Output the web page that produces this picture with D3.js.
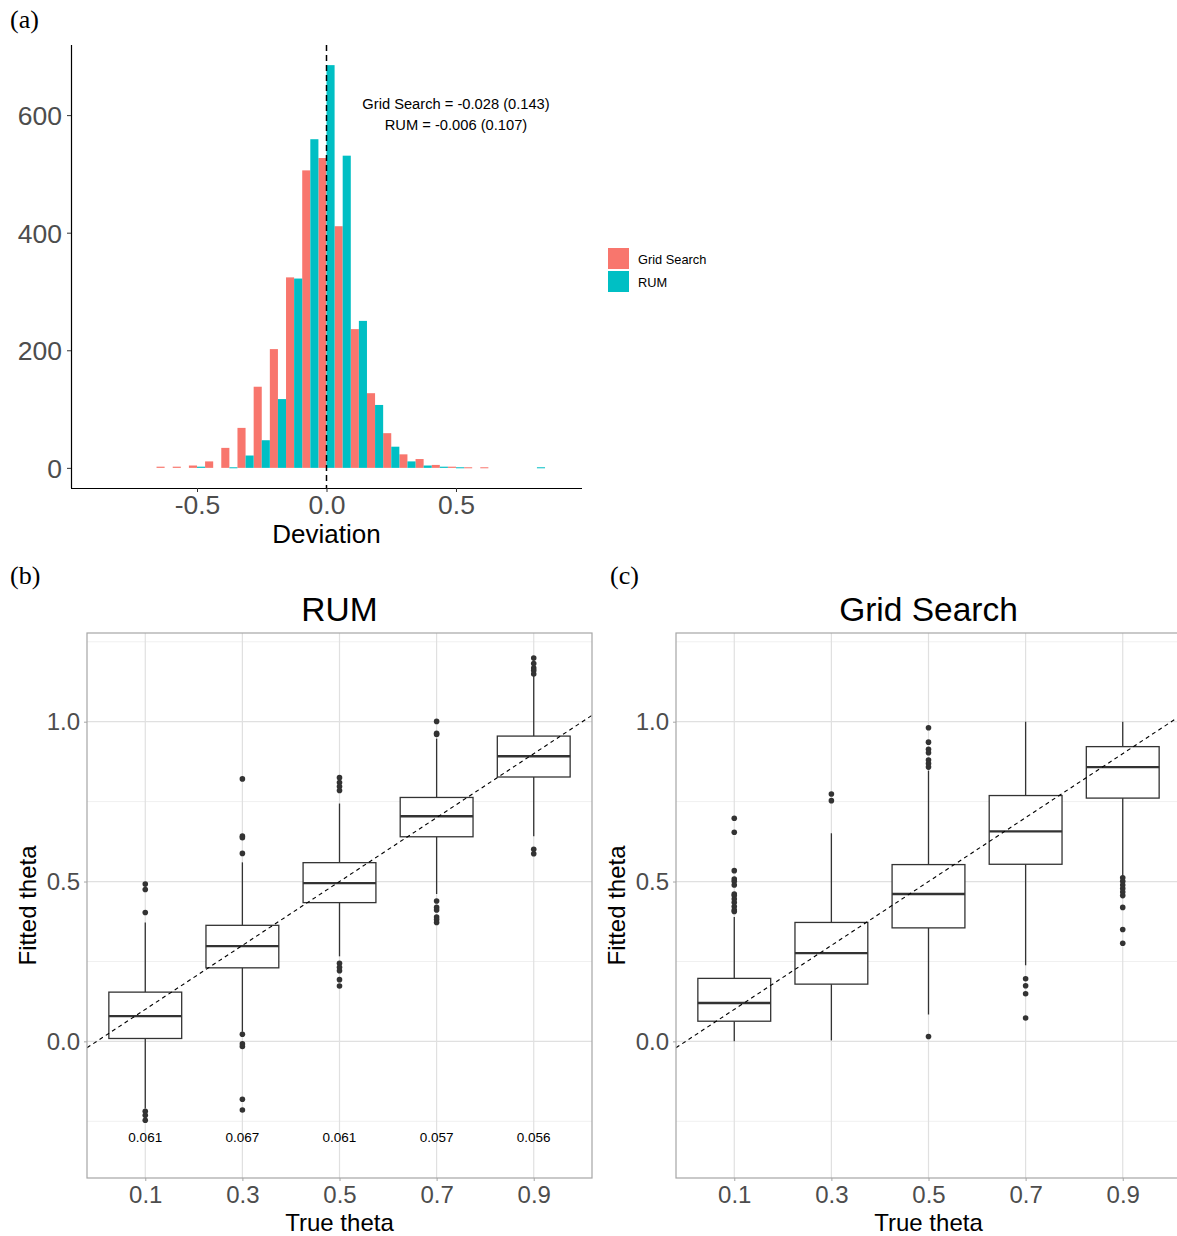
<!DOCTYPE html>
<html>
<head>
<meta charset="utf-8">
<script src="https://cdn.jsdelivr.net/npm/d3@7"></script>
<style>
  body { margin: 0; background: #fff; }
  svg { display: block; font-family: "Liberation Sans", Arial, sans-serif; }
</style>
</head>
<body>
<svg id="chart" width="1177" height="1236"></svg>
<script>
'use strict';
// (a) histogram of deviations, dodged bins of width 0.0625
const BIN_WIDTH = 0.0625;
const binCenters = [-0.625, -0.5625, -0.5, -0.4375, -0.375, -0.3125, -0.25, -0.1875, -0.125, -0.0625,
  0, 0.0625, 0.125, 0.1875, 0.25, 0.3125, 0.375, 0.4375, 0.5, 0.5625, 0.625, 0.6875, 0.75, 0.8125];
const gridCounts = [2, 2, 4, 11, 34, 68, 138, 202, 324, 506, 527, 411, 236, 127, 59, 23, 15, 5, 2, 1, 1, 0, 0, 0];
const rumCounts  = [0, 0, 2, 0, 1, 21, 47, 117, 322, 559, 685, 531, 250, 107, 36, 11, 4, 2, 1, 0, 0, 0, 0, 1];
const histTicksX = [-0.5, 0, 0.5];
const histTickLabelsX = ['-0.5', '0.0', '0.5'];
const histTicksY = [0, 200, 400, 600];
const seriesNames = ['Grid Search', 'RUM'];
const seriesColors = ['#F8766D', '#00BFC4'];
const meanLabels = ['Grid Search = -0.028 (0.143)', 'RUM = -0.006 (0.107)'];

// (b), (c) box plots of fitted theta by true theta
const thetaCats = ['0.1', '0.3', '0.5', '0.7', '0.9'];
const rumLow    = [-0.21, 0.03, 0.266, 0.461, 0.642];
const rumQ1     = [0.009, 0.230, 0.434, 0.640, 0.827];
const rumMedian = [0.079, 0.298, 0.495, 0.704, 0.892];
const rumQ3     = [0.154, 0.363, 0.559, 0.763, 0.955];
const rumHigh   = [0.372, 0.560, 0.744, 0.947, 1.143];
const rumOutliers = [
  [0.492, 0.475, 0.403, -0.219, -0.231, -0.247],
  [0.821, 0.642, 0.637, 0.588, 0.022, -0.008, -0.016, -0.181, -0.215],
  [0.825, 0.810, 0.797, 0.785, 0.244, 0.232, 0.221, 0.193, 0.173],
  [1.001, 0.964, 0.960, 0.439, 0.419, 0.411, 0.389, 0.381, 0.372],
  [1.199, 1.182, 1.168, 1.160, 1.149, 0.601, 0.587]
];
const rumRmse = ['0.061', '0.067', '0.061', '0.057', '0.056'];

const gridLow    = [0.0, 0.003, 0.084, 0.238, 0.517];
const gridQ1     = [0.063, 0.179, 0.355, 0.554, 0.761];
const gridMedian = [0.120, 0.276, 0.461, 0.657, 0.858];
const gridQ3     = [0.197, 0.372, 0.553, 0.769, 0.922];
const gridHigh   = [0.389, 0.651, 0.847, 1.0, 1.0];
const gridOutliers = [
  [0.698, 0.654, 0.534, 0.508, 0.501, 0.489, 0.461, 0.456, 0.445, 0.434, 0.422, 0.411, 0.406],
  [0.774, 0.753],
  [0.981, 0.936, 0.914, 0.903, 0.880, 0.869, 0.858, 0.015],
  [0.196, 0.174, 0.149, 0.073],
  [0.512, 0.501, 0.489, 0.478, 0.467, 0.456, 0.419, 0.350, 0.307]
];
const fitTicksY = [0, 0.5, 1.0];
const fitMinorY = [-0.25, 0.25, 0.75, 1.25];

const svg = d3.select('#chart');
const TICK_GREY = '#4d4d4d';

function panelLabel(x, y, txt) {
  svg.append('text')
    .attr('x', x).attr('y', y)
    .attr('font-family', '"Liberation Serif", "Times New Roman", serif')
    .attr('font-size', 26)
    .text(txt);
}

// ---------- (a) histogram ----------
function drawHistogram() {
  const x = d3.scaleLinear().domain([-0.9865, 0.9865]).range([71, 582]);
  const y = d3.scaleLinear().domain([-34.25, 719.25]).range([488, 45]);
  const g = svg.append('g');

  const bins = binCenters.map(function(c, i) {
    return { c: c, counts: [gridCounts[i], rumCounts[i]] };
  });
  seriesNames.forEach(function(name, s) {
    g.selectAll('rect.s' + s)
      .data(bins)
      .enter()
      .append('rect')
      .attr('x', function(d) { return x(d.c - BIN_WIDTH / 2 + s * BIN_WIDTH / 2) })
      .attr('width', function(d) { return x(BIN_WIDTH / 2) - x(0) })
      .attr('y', function(d) { return y(d.counts[s]) })
      .attr('height', function(d) { return Math.max(y(0) - y(d.counts[s]), d.counts[s] > 0 ? 1 : 0) })
      .attr('fill', seriesColors[s]);
  });

  // vertical reference at 0
  g.append('line')
    .attr('x1', x(0)).attr('x2', x(0))
    .attr('y1', 45).attr('y2', 488)
    .attr('stroke', '#000').attr('stroke-width', 1.5)
    .attr('stroke-dasharray', '6,4');

  const xAxis = g.append('g').attr('transform', 'translate(0,488)')
    .call(d3.axisBottom(x).tickValues(histTicksX).tickSize(4).tickPadding(3)
      .tickFormat(function(d, i) { return histTickLabelsX[i] }));
  const yAxis = g.append('g').attr('transform', 'translate(71,0)')
    .call(d3.axisLeft(y).tickValues(histTicksY).tickSize(4).tickPadding(5));
  [xAxis, yAxis].forEach(function(a) {
    a.select('.domain').attr('stroke', '#000').attr('stroke-width', 1.2);
    a.selectAll('.tick line').attr('stroke', '#333');
    a.selectAll('.tick text').attr('fill', TICK_GREY).attr('font-size', 26.5)
      .attr('font-family', '"Liberation Sans", Arial, sans-serif');
  });
  xAxis.select('.domain').attr('d', 'M71,0.5H582');
  yAxis.select('.domain').attr('d', 'M0.5,45V488');
  yAxis.selectAll('.tick text').attr('dy', '0.36em');

  g.append('text')
    .attr('x', x(0)).attr('y', 543)
    .attr('text-anchor', 'middle').attr('font-size', 26)
    .text('Deviation');

  meanLabels.forEach(function(t, i) {
    g.append('text')
      .attr('x', 456).attr('y', 109 + i * 21)
      .attr('text-anchor', 'middle').attr('font-size', 14.7)
      .text(t);
  });

  // legend
  const leg = g.append('g');
  seriesNames.forEach(function(name, i) {
    leg.append('rect')
      .attr('x', 608).attr('y', 248 + i * 23)
      .attr('width', 21).attr('height', 21)
      .attr('fill', seriesColors[i]);
    leg.append('text')
      .attr('x', 638).attr('y', 263.5 + i * 23)
      .attr('font-size', 12.8)
      .text(name);
  });
}

// ---------- (b), (c) box plots ----------
function drawBoxPanel(opts) {
  const left = opts.left, right = opts.right, top = 633, bottom = 1178;
  const g = svg.append('g');
  const y = d3.scaleLinear().domain([-0.4275, 1.2775]).range([bottom, top]);
  const xp = d3.scalePoint().domain(thetaCats).range([left, right]).padding(0.6);
  const xv = d3.scaleLinear().domain([0.1, 0.9]).range([xp(thetaCats[0]), xp(thetaCats[4])]);
  const step = xp.step();
  const boxW = step * 0.75;

  const clipId = 'clip' + opts.id;
  svg.append('clipPath').attr('id', clipId)
    .append('rect').attr('x', left).attr('y', top)
    .attr('width', right - left).attr('height', bottom - top);
  const plot = g.append('g').attr('clip-path', 'url(#' + clipId + ')');

  // grid
  plot.selectAll('line.minor').data(fitMinorY).enter().append('line')
    .attr('x1', left).attr('x2', right)
    .attr('y1', function(d) { return y(d) }).attr('y2', function(d) { return y(d) })
    .attr('stroke', '#f0f0f0').attr('stroke-width', 1);
  plot.selectAll('line.majorY').data(fitTicksY).enter().append('line')
    .attr('x1', left).attr('x2', right)
    .attr('y1', function(d) { return y(d) }).attr('y2', function(d) { return y(d) })
    .attr('stroke', '#e0e0e0').attr('stroke-width', 1.2);
  plot.selectAll('line.majorX').data(thetaCats).enter().append('line')
    .attr('x1', function(d) { return xp(d) }).attr('x2', function(d) { return xp(d) })
    .attr('y1', top).attr('y2', bottom)
    .attr('stroke', '#e0e0e0').attr('stroke-width', 1.2);

  const stats = thetaCats.map(function(c, i) {
    return {
      cat: c, low: opts.low[i], q1: opts.q1[i], med: opts.median[i],
      q3: opts.q3[i], high: opts.high[i], out: opts.outliers[i]
    };
  });

  const box = plot.selectAll('g.box').data(stats).enter().append('g');
  box.append('line')
    .attr('x1', function(d) { return xp(d.cat) }).attr('x2', function(d) { return xp(d.cat) })
    .attr('y1', function(d) { return y(d.q3) }).attr('y2', function(d) { return y(d.high) })
    .attr('stroke', '#333').attr('stroke-width', 1.3);
  box.append('line')
    .attr('x1', function(d) { return xp(d.cat) }).attr('x2', function(d) { return xp(d.cat) })
    .attr('y1', function(d) { return y(d.q1) }).attr('y2', function(d) { return y(d.low) })
    .attr('stroke', '#333').attr('stroke-width', 1.3);
  box.append('rect')
    .attr('x', function(d) { return xp(d.cat) - boxW / 2 })
    .attr('width', boxW)
    .attr('y', function(d) { return y(d.q3) })
    .attr('height', function(d) { return y(d.q1) - y(d.q3) })
    .attr('fill', '#fff').attr('stroke', '#333').attr('stroke-width', 1.3);
  box.append('line')
    .attr('x1', function(d) { return xp(d.cat) - boxW / 2 })
    .attr('x2', function(d) { return xp(d.cat) + boxW / 2 })
    .attr('y1', function(d) { return y(d.med) }).attr('y2', function(d) { return y(d.med) })
    .attr('stroke', '#333').attr('stroke-width', 2.4);
  box.each(function(d) {
    d3.select(this).selectAll('circle').data(d.out).enter().append('circle')
      .attr('cx', xp(d.cat)).attr('cy', function(v) { return y(v) })
      .attr('r', 2.8).attr('fill', '#333');
  });

  // identity line
  plot.append('line')
    .attr('x1', left).attr('x2', right)
    .attr('y1', y(xv.invert(left))).attr('y2', y(xv.invert(right)))
    .attr('stroke', '#000').attr('stroke-width', 1.1)
    .attr('stroke-dasharray', '4,3.5');

  if (opts.rmse) {
    plot.selectAll('text.rmse').data(opts.rmse).enter().append('text')
      .attr('x', function(d, i) { return xp(thetaCats[i]) })
      .attr('y', y(-0.3) + 5)
      .attr('text-anchor', 'middle').attr('font-size', 13.5)
      .text(function(d) { return d });
  }

  // border
  g.append('rect')
    .attr('x', left).attr('y', top)
    .attr('width', right - left).attr('height', bottom - top)
    .attr('fill', 'none').attr('stroke', '#a6a6a6').attr('stroke-width', 1.2);

  const yAxis = g.append('g').attr('transform', 'translate(' + left + ',0)')
    .call(d3.axisLeft(y).tickValues(fitTicksY).tickSize(3).tickPadding(4).tickFormat(d3.format('.1f')));
  const xAxis = g.append('g').attr('transform', 'translate(0,' + bottom + ')')
    .call(d3.axisBottom(xp).tickSize(3).tickPadding(5));
  [xAxis, yAxis].forEach(function(a) {
    a.select('.domain').remove();
    a.selectAll('.tick line').attr('stroke', '#a6a6a6');
    a.selectAll('.tick text').attr('fill', TICK_GREY).attr('font-size', 24)
      .attr('font-family', '"Liberation Sans", Arial, sans-serif');
  });

  g.append('text')
    .attr('x', xp(thetaCats[2])).attr('y', 621)
    .attr('text-anchor', 'middle').attr('font-size', 33.5)
    .text(opts.title);
  g.append('text')
    .attr('x', xp(thetaCats[2])).attr('y', 1231)
    .attr('text-anchor', 'middle').attr('font-size', 24)
    .text('True theta');
  g.append('text')
    .attr('transform', 'translate(' + (left - 51) + ',' + ((top + bottom) / 2) + ') rotate(-90)')
    .attr('text-anchor', 'middle').attr('font-size', 24)
    .text('Fitted theta');
}

drawHistogram();
drawBoxPanel({
  id: 'b', left: 87, right: 592, title: 'RUM',
  low: rumLow, q1: rumQ1, median: rumMedian, q3: rumQ3, high: rumHigh,
  outliers: rumOutliers, rmse: rumRmse
});
drawBoxPanel({
  id: 'c', left: 676, right: 1181, title: 'Grid Search',
  low: gridLow, q1: gridQ1, median: gridMedian, q3: gridQ3, high: gridHigh,
  outliers: gridOutliers, rmse: null
});

panelLabel(10, 28, '(a)');
panelLabel(10, 584, '(b)');
panelLabel(610, 584, '(c)');
</script>
</body>
</html>
